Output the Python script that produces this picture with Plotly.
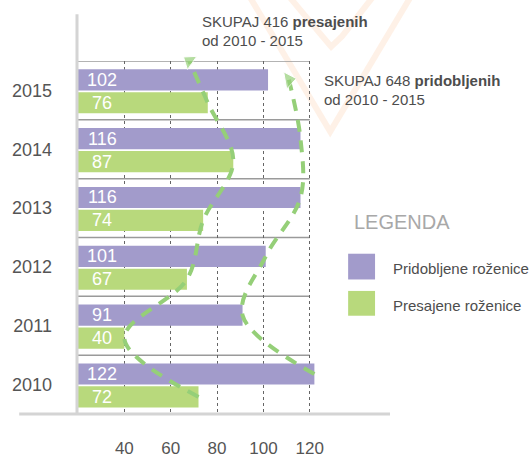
import plotly.graph_objects as go

# ---------------- data ----------------
YEARS = [2010, 2011, 2012, 2013, 2014, 2015]
PRIDOBLJENE = [122, 91, 101, 116, 116, 102]   # purple bars
PRESAJENE = [72, 40, 67, 74, 87, 76]          # green bars
X_TICKS = [40, 60, 80, 100, 120]
NAME_P = "Pridobljene roženice"
NAME_G = "Presajene roženice"
LEGEND_TITLE = "LEGENDA"
PERIOD = "od 2010 - 2015"

# ---------------- styles ----------------
W, H = 531, 470
PL, PR, PT, PB = 77, 390, 61, 431          # plot area in pixels
X0 = 20
PX_PER_UNIT = 2.325
XMAX = X0 + (PR - PL) / PX_PER_UNIT
PURPLE = "#A29BCB"
GREEN = "#B8D97C"
DASH_GREEN = "#95CF78"
TEXT = "#4D4D4D"
FONT = "Liberation Sans, Arial, sans-serif"
BAR_W = 0.36
P_OFF = 0.0
G_OFF = -0.39


def xp(px):
    return (px - PL) / (PR - PL)


def yp(py):
    return (PB - py) / (PB - PT)


fig = go.Figure()

fig.add_trace(go.Bar(y=YEARS, x=PRIDOBLJENE, orientation="h", marker_color=PURPLE,
                     marker_line_width=0, width=BAR_W, offset=P_OFF, name=NAME_P,
                     hoverinfo="x+name"))
fig.add_trace(go.Bar(y=YEARS, x=PRESAJENE, orientation="h", marker_color=GREEN,
                     marker_line_width=0, width=BAR_W, offset=G_OFF, name=NAME_G,
                     hoverinfo="x+name"))

# dashed trend lines through bar ends, ending with an arrow head
p_y = [y + P_OFF + BAR_W / 2 for y in YEARS]
g_y = [y + G_OFF + BAR_W / 2 for y in YEARS]
p_x = PRIDOBLJENE[:-1] + [PRIDOBLJENE[-1] + 9]
g_x = PRESAJENE + [PRESAJENE[-1] - 8]
g_y2 = g_y + [YEARS[-1] + 0.5]
n = len(YEARS)
fig.add_trace(go.Scatter(x=p_x, y=p_y, mode="lines+markers", hoverinfo="skip",
                         cliponaxis=False,
                         line=dict(color=DASH_GREEN, width=4, dash="12px,9px", shape="spline"),
                         marker=dict(size=[0] * (n - 1) + [15], symbol="triangle-right",
                                     color=DASH_GREEN, angle=-10)))
fig.add_trace(go.Scatter(x=g_x, y=g_y2, mode="lines+markers", hoverinfo="skip",
                         cliponaxis=False,
                         line=dict(color=DASH_GREEN, width=4, dash="12px,9px", shape="spline"),
                         marker=dict(size=[0] * n + [14], symbol="triangle-up",
                                     color=DASH_GREEN, angle=-55)))

shapes = []
# faint heart watermark
WM = "rgba(250,205,170,0.28)"
for pts in ([(250, -5), (330, 135), (410, -5)], [(290, -5), (322, 35), (331, 46), (342, 35), (372, -5)]):
    path = "M " + " L ".join(f"{xp(a):.4f},{yp(b):.4f}" for a, b in pts)
    shapes.append(dict(type="path", path=path, xref="paper", yref="paper",
                       line=dict(color=WM, width=6), layer="below"))
# category separators
for k in range(1, len(YEARS) + 1):
    shapes.append(dict(type="line", xref="x", yref="y", x0=X0, x1=X_TICKS[-1],
                       y0=YEARS[0] - 0.5 + k, y1=YEARS[0] - 0.5 + k,
                       line=dict(color="#9A9A9A", width=1.5), layer="below"))
# left wall and bottom base line
shapes.append(dict(type="line", xref="paper", yref="paper", x0=xp(76), x1=xp(76),
                   y0=0, y1=yp(12), line=dict(color="#D4D4D4", width=3)))
shapes.append(dict(type="line", xref="paper", yref="paper", x0=xp(18), x1=1,
                   y0=yp(431), y1=yp(431), line=dict(color="#D4D4D4", width=3)))
# legend swatches
shapes.append(dict(type="rect", xref="paper", yref="paper", x0=xp(348), x1=xp(375),
                   y0=yp(290), y1=yp(263), fillcolor=PURPLE, line_width=0))
shapes.append(dict(type="rect", xref="paper", yref="paper", x0=xp(348), x1=xp(375),
                   y0=yp(328), y1=yp(302), fillcolor=GREEN, line_width=0))

ann = []
# bar value labels
for y, v in zip(YEARS, PRIDOBLJENE):
    ann.append(dict(x=X0, y=y + P_OFF + BAR_W / 2, xref="x", yref="y", text=str(v),
                    showarrow=False, xanchor="center", xshift=24,
                    font=dict(family=FONT, size=18, color="white")))
for y, v in zip(YEARS, PRESAJENE):
    ann.append(dict(x=X0, y=y + G_OFF + BAR_W / 2, xref="x", yref="y", text=str(v),
                    showarrow=False, xanchor="center", xshift=24,
                    font=dict(family=FONT, size=18, color="white")))


def txt(text, px, py, size=15, color=TEXT, anchor="left"):
    ann.append(dict(x=xp(px), y=yp(py), xref="paper", yref="paper", text=text,
                    showarrow=False, xanchor=anchor, yanchor="middle",
                    font=dict(family=FONT, size=size, color=color)))


txt(f"SKUPAJ {sum(PRESAJENE)} <b>presajenih</b>", 199, 20)
txt(PERIOD, 199, 40)
txt(f"SKUPAJ {sum(PRIDOBLJENE)} <b>pridobljenih</b>", 322, 81)
txt(PERIOD, 322, 101)
txt(LEGEND_TITLE, 352, 230, size=20, color="#A8A8A8")
txt(NAME_P, 391, 278)
txt(NAME_G, 391, 317)

fig.update_layout(
    width=W, height=H, margin=dict(l=PL, r=W - PR, t=PT, b=H - PB, pad=0),
    plot_bgcolor="white", paper_bgcolor="white", showlegend=False,
    barmode="overlay", shapes=shapes, annotations=ann,
    xaxis=dict(range=[X0, XMAX], tickvals=X_TICKS, showgrid=True, gridcolor="#666666",
               griddash="dot", gridwidth=1, zeroline=False, showline=False, ticks="",
               ticklabelstandoff=22, tickfont=dict(family=FONT, size=17, color="#555555")),
    yaxis=dict(range=[YEARS[0] - 0.5, YEARS[-1] + 0.5], tickvals=YEARS,
               ticktext=[str(y) for y in YEARS], showgrid=False, zeroline=False,
               showline=False, ticks="", ticklabelstandoff=25,
               tickfont=dict(family=FONT, size=18, color="#555555")),
)

fig.write_html("out.html", config={"displayModeBar": False},
               post_script="document.body.style.margin='0';")
